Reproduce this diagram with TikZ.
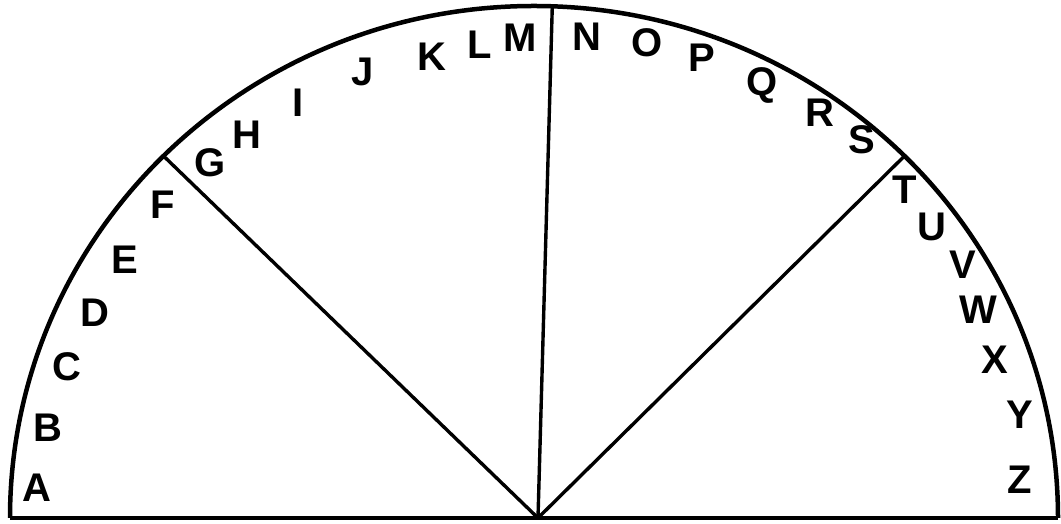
\documentclass[tikz,border=0pt]{standalone}
\usepackage{fontspec}
\setmainfont{Liberation Sans}
\usetikzlibrary{calc}
\begin{document}
\begin{tikzpicture}[x=1pt,y=1pt,
  arcline/.style={line width=4.5pt},
  spoke/.style={line width=3.4pt},
  letter/.style={font=\fontsize{40}{40}\selectfont\bfseries, inner sep=0pt}]
\useasboundingbox (0,0) rectangle (1061,524);
\fill[white] (0,0) rectangle (1061,524);
% geometry
\coordinate (C) at (534,6);
\coordinate (O) at (538,6);
\coordinate (L0) at ($(C)+(180:524 and 512)$);
\coordinate (R0) at ($(C)+(0:524 and 512)$);
\coordinate (PL) at ($(C)+(135:524 and 512)$);
\coordinate (PT) at ($(C)+(88:524 and 512)$);
\coordinate (PR) at ($(C)+(45:524 and 512)$);
% arc and base
\draw[arcline] (R0) arc[start angle=0, end angle=180, x radius=524, y radius=512];
\draw[arcline] (L0) -- (R0);
% spokes
\draw[spoke] (O) -- (PL);
\draw[spoke] (O) -- (PT);
\draw[spoke] (O) -- (PR);
% letters
\node[letter] (A) at (37,36) {A};
\node[letter] (B) at (48,96) {B};
\node[letter] (Cl) at (67,157) {C};
\node[letter] (D) at (95,211) {D};
\node[letter] (E) at (125,264) {E};
\node[letter] (F) at (163,319) {F};
\node[letter] (G) at (210,361) {G};
\node[letter] (H) at (247,389) {H};
\node[letter] (I) at (298,421) {I};
\node[letter] (J) at (363,452) {J};
\node[letter] (K) at (432,467) {K};
\node[letter] (Ll) at (480,479) {L};
\node[letter] (M) at (520,486) {M};
\node[letter] (N) at (587,487) {N};
\node[letter] (Ol) at (647,481) {O};
\node[letter] (P) at (702,466) {P};
\node[letter] (Q) at (762,439) {Q};
\node[letter] (R) at (820,411) {R};
\node[letter] (S) at (862,384) {S};
\node[letter] (T) at (905,334) {T};
\node[letter] (U) at (932,297) {U};
\node[letter] (V) at (963,259) {V};
\node[letter] (W) at (978,214) {W};
\node[letter] (X) at (995,164) {X};
\node[letter] (Y) at (1020,109) {Y};
\node[letter] (Z) at (1020,44) {Z};
\end{tikzpicture}
\end{document}
